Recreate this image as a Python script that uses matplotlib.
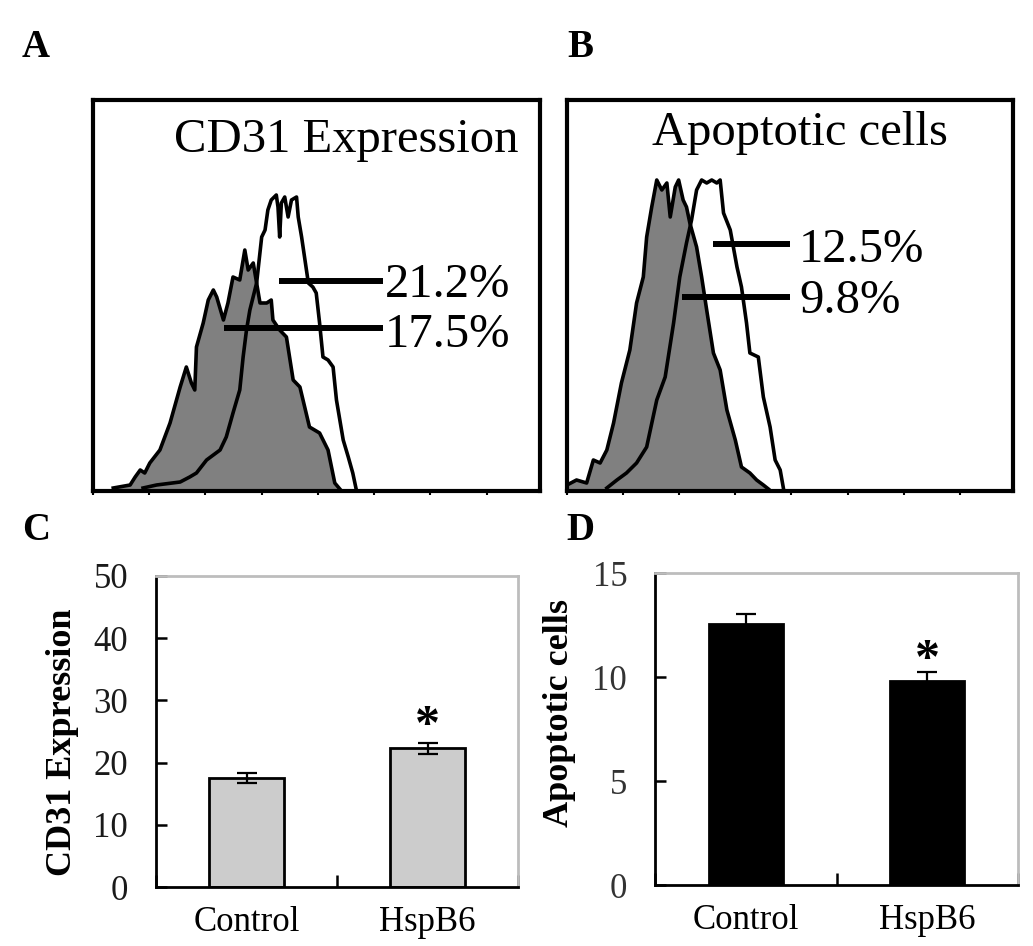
import matplotlib
matplotlib.use('Agg')
import matplotlib.pyplot as plt

plt.rcParams['font.family'] = ['Liberation Serif', 'DejaVu Serif']

# ---------------- data ----------------
# Panel A: CD31 flow histograms (channel, count)
a_ctrl_x = [0.36, 0.66, 0.75, 0.84, 0.92, 1.01, 1.19, 1.37, 1.55, 1.66, 1.75, 1.81, 1.84, 1.96,
            2.05, 2.14, 2.20, 2.32, 2.40, 2.49, 2.61, 2.70, 2.76, 2.85, 2.97, 3.09, 3.17, 3.20,
            3.32, 3.44, 3.56, 3.68, 3.85, 4.03, 4.18, 4.30, 4.39]
a_ctrl_y = [3, 6, 14, 21, 18, 28, 41, 68, 104, 124, 108, 101, 144, 168,
            191, 201, 194, 171, 188, 214, 211, 241, 221, 228, 188, 188, 191, 171,
            161, 154, 111, 104, 64, 58, 41, 8, 2]
a_hsp_x = [0.89, 1.13, 1.55, 1.72, 1.84, 2.02, 2.26, 2.37, 2.49, 2.61, 2.67, 2.73, 2.79, 2.91,
           3.00, 3.06, 3.11, 3.17, 3.26, 3.29, 3.32, 3.35, 3.41, 3.47, 3.53, 3.62, 3.65, 3.71,
           3.83, 3.91, 3.97, 4.03, 4.09, 4.18, 4.27, 4.33, 4.45, 4.54, 4.62, 4.68]
a_hsp_y = [3, 6, 9, 14, 18, 31, 41, 54, 78, 101, 134, 161, 181, 208,
           254, 261, 281, 291, 296, 284, 254, 288, 294, 274, 291, 294, 274, 254,
           208, 204, 198, 168, 134, 131, 124, 91, 51, 34, 18, 2]
a_gate_x0 = [3.30, 2.33]
a_gate_x1 = [5.15, 5.15]
a_gate_y = [210, 163]
a_gate_labels = ['21.2%', '17.5%']

# Panel B: apoptosis flow histograms
b_ctrl_x = [0.00, 0.17, 0.35, 0.47, 0.59, 0.71, 0.83, 0.97, 1.12, 1.24, 1.36, 1.42, 1.51, 1.60,
            1.69, 1.78, 1.84, 1.93, 1.99, 2.07, 2.13, 2.19, 2.31, 2.40, 2.49, 2.61, 2.73, 2.85,
            3.00, 3.11, 3.26, 3.38, 3.50, 3.59]
b_ctrl_y = [6, 11, 8, 31, 28, 41, 68, 108, 141, 188, 214, 254, 284, 311,
            301, 308, 274, 304, 311, 291, 284, 268, 244, 214, 181, 138, 121, 81,
            51, 24, 18, 11, 6, 2]
b_hsp_x = [0.71, 0.89, 1.06, 1.24, 1.42, 1.60, 1.75, 1.90, 2.01, 2.13, 2.22, 2.31, 2.40, 2.49,
           2.58, 2.67, 2.73, 2.79, 2.91, 3.03, 3.11, 3.20, 3.26, 3.41, 3.50, 3.62, 3.71, 3.80, 3.86]
b_hsp_y = [3, 11, 18, 28, 44, 91, 114, 168, 214, 248, 271, 301, 311, 308,
           311, 308, 311, 278, 261, 224, 204, 168, 138, 134, 94, 64, 31, 21, 2]
b_gate_x0 = [2.60, 2.05]
b_gate_x1 = [3.975, 3.975]
b_gate_y = [247, 194]
b_gate_labels = ['12.5%', '9.8%']

# Panels C / D: bar charts
categories = ['Control', 'HspB6']
cd31_mean = [17.6, 22.3]
cd31_err = [0.8, 0.9]
apop_mean = [12.55, 9.8]
apop_err = [0.5, 0.45]
cd31_yticks = [0, 10, 20, 30, 40, 50]
apop_yticks = [0, 5, 10, 15]

# ---------------- figure ----------------
W, H = 1033, 946
fig = plt.figure(figsize=(W / 100, H / 100), dpi=100)


def box(l, t, r, b):
    return [l / W, 1 - b / H, (r - l) / W, (b - t) / H]


GRAY = '#808080'


def hist_panel(rect, cx, cy, hx, hy, gx0, gx1, gy, glabels, title, title_xy, lab_x, lab_base):
    ax = fig.add_axes(rect)
    ax.fill_between(cx, cy, 0, color=GRAY, lw=0, zorder=1)
    ax.plot(cx, cy, color='black', lw=2.6, zorder=2)
    ax.plot(hx, hy, color='black', lw=2.6, zorder=3)
    for x0, x1, y, lab, yb in zip(gx0, gx1, gy, glabels, lab_base):
        ax.plot([x0, x1], [y, y], color='black', lw=4.3, solid_capstyle='butt', zorder=4)
        ax.text(lab_x, yb, lab, fontsize=35, ha='left', va='baseline', zorder=5)
    ax.text(title_xy[0], title_xy[1], title, transform=ax.transAxes, fontsize=35,
            ha='right', va='baseline')
    ax.set_xlim(0, 7.95)
    ax.set_ylim(0, 391)
    ax.set_xticks(range(0, 8))
    ax.set_xticklabels([])
    ax.set_yticks([])
    ax.tick_params(axis='x', direction='out', length=3, width=1.5, color='black')
    for s in ax.spines.values():
        s.set_linewidth(3)
        s.set_color('black')
    return ax


hist_panel(box(93, 100, 540, 491), a_ctrl_x, a_ctrl_y, a_hsp_x, a_hsp_y,
           a_gate_x0, a_gate_x1, a_gate_y, a_gate_labels, 'CD31 Expression',
           (0.951, 0.867), 5.19, [194, 144])
hist_panel(box(567, 100, 1013, 491), b_ctrl_x, b_ctrl_y, b_hsp_x, b_hsp_y,
           b_gate_x0, b_gate_x1, b_gate_y, b_gate_labels, 'Apoptotic cells',
           (0.854, 0.885), 4.135, [229, 178])


def bar_panel(rect, means, errs, color, yticks, ylabel, ylab_xy, tick_color, star_off):
    ax = fig.add_axes(rect)
    xs = list(range(len(categories)))
    ax.bar(xs, means, width=0.41, color=color, edgecolor='black', linewidth=2, zorder=2)
    ax.errorbar(xs, means, yerr=errs, fmt='none', ecolor='black', elinewidth=1.6,
                capsize=7, capthick=1.6, zorder=3)
    ax.annotate('*', xy=(1, means[1] + errs[1]), xytext=(0, star_off),
                textcoords='offset points', ha='center', va='bottom', fontsize=36,
                fontweight='bold')
    ax.set_xlim(-0.5, len(categories) - 0.5)
    ax.set_ylim(yticks[0], yticks[-1])
    ax.set_yticks(yticks)
    ax.set_yticklabels([str(t) for t in yticks])
    ax.set_xticks([-0.5, 0.5, 1.5])
    ax.set_xticklabels([])
    ax.set_xticks(xs, minor=True)
    ax.set_xticklabels(categories, minor=True)
    ax.tick_params(axis='x', which='major', direction='in', length=9, width=1.8)
    ax.tick_params(axis='x', which='minor', length=0, pad=14, labelsize=25)
    ax.tick_params(axis='y', direction='in', length=8, width=1.8, pad=20,
                   labelsize=25, labelcolor=tick_color)
    for side in ('left', 'bottom'):
        ax.spines[side].set_linewidth(2)
        ax.spines[side].set_color('black')
    for side in ('top', 'right'):
        ax.spines[side].set_linewidth(2)
        ax.spines[side].set_color('#bdbdbd')
    ax.text(ylab_xy[0], ylab_xy[1], ylabel, transform=ax.transAxes, rotation=90,
            ha='center', va='center', fontsize=26, fontweight='bold')
    return ax


bar_panel(box(156, 576, 518, 887), cd31_mean, cd31_err, '#cccccc', cd31_yticks,
          'CD31 Expression', (-0.257, 0.466), '#1a1a1a', -5)
bar_panel(box(655, 573, 1018, 885), apop_mean, apop_err, 'black', apop_yticks,
          'Apoptotic cells', (-0.262, 0.551), '#333333', -9)

for lab, x, yb in [('A', 22, 57), ('B', 567, 57), ('C', 22, 540), ('D', 566, 540)]:
    fig.text(x / W, 1 - yb / H, lab, fontsize=28, fontweight='bold', ha='left', va='baseline')

fig.savefig('out.png', dpi=100, facecolor='white')
